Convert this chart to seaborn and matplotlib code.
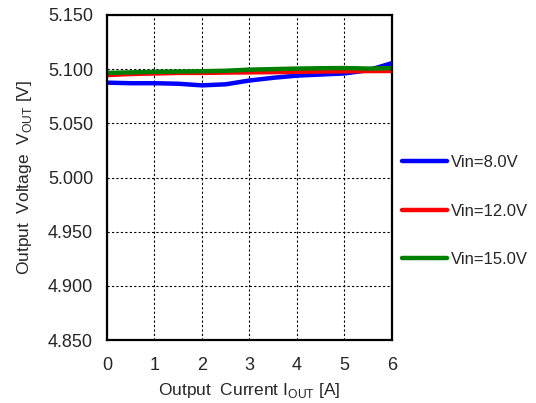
import pandas as pd
import matplotlib.pyplot as plt
import seaborn as sns

current = [0, 0.5, 1, 1.5, 2, 2.5, 3, 3.5, 4, 4.5, 5, 5.5, 6]
vout_8v = [5.0875, 5.0870, 5.0870, 5.0865, 5.0850, 5.0860, 5.0895, 5.0920, 5.0940, 5.0950, 5.0960, 5.0990, 5.1055]
vout_12v = [5.0945, 5.0955, 5.0960, 5.0965, 5.0965, 5.0968, 5.0970, 5.0972, 5.0975, 5.0978, 5.0980, 5.0982, 5.0983]
vout_15v = [5.0965, 5.0970, 5.0975, 5.0978, 5.0980, 5.0985, 5.0995, 5.1000, 5.1005, 5.1008, 5.1010, 5.1005, 5.1010]
labels = ['Vin=8.0V', 'Vin=12.0V', 'Vin=15.0V']

df = pd.concat([
    pd.DataFrame({'I': current, 'V': v, 'Vin': lab})
    for v, lab in zip([vout_8v, vout_12v, vout_15v], labels)
])

sns.set_style('white')
plt.rcParams['font.family'] = ['Liberation Sans', 'DejaVu Sans']
plt.rcParams['mathtext.fontset'] = 'custom'
plt.rcParams['mathtext.rm'] = 'Liberation Sans'

fig = plt.figure(figsize=(5.36, 4.03), dpi=100)
ax = fig.add_axes([0.1996, 0.156, 0.5317, 0.807])

palette = {'Vin=8.0V': '#0000ff', 'Vin=12.0V': '#ff0000', 'Vin=15.0V': '#008000'}
sns.lineplot(data=df, x='I', y='V', hue='Vin', palette=palette, linewidth=3.2, ax=ax)

ax.set_xlim(0, 6)
ax.set_ylim(4.85, 5.15)
ax.set_xticks(range(7))
ax.set_yticks([4.85, 4.9, 4.95, 5.0, 5.05, 5.1, 5.15])
ax.set_yticklabels(['%.3f' % t for t in ax.get_yticks()])
ax.tick_params(labelsize=13, length=0)
ax.tick_params(axis='y', pad=10)
ax.tick_params(axis='x', pad=12)
ax.grid(True, color='black', linestyle=(0, (2, 2)), linewidth=0.8)
for s in ax.spines.values():
    s.set_color('black')
    s.set_linewidth(1.6)

ax.set_xlabel(r'Output  Current I$_{\mathrm{OUT}}$ [A]', fontsize=12.5, labelpad=5)
ax.set_ylabel(r'Output  Voltage  V$_{\mathrm{OUT}}$ [V]', fontsize=12.5, labelpad=10)

ax.legend(title=None, loc='center left', bbox_to_anchor=(1.0, 0.397), frameon=False,
          fontsize=12, labelspacing=2.0, handlelength=2.7, handletextpad=0.25,
          borderaxespad=0.2)
for line in ax.get_legend().get_lines():
    line.set_linewidth(3.2)

plt.savefig('out.png', dpi=100)
